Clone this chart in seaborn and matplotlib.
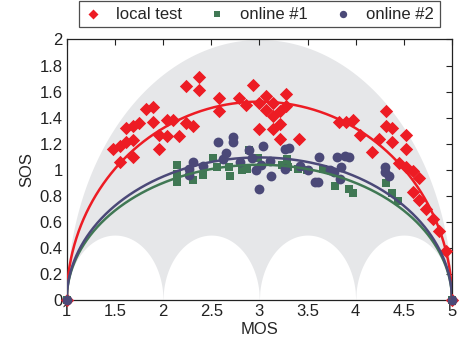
import numpy as np
import pandas as pd
import matplotlib
matplotlib.use("Agg")
import matplotlib.pyplot as plt
import seaborn as sns

# ---------------------------------------------------------------
# data (MOS, SOS per test condition)
# ---------------------------------------------------------------
local_mos = [1.00, 1.48, 1.55, 1.62, 1.69, 1.55, 1.69, 1.62, 1.69, 1.75, 1.82,
             1.90, 1.90, 1.96, 1.96, 2.04, 2.04, 2.10, 2.17, 2.24, 2.31, 2.24,
             2.37, 2.37, 2.58, 2.58, 2.79, 2.86, 2.93, 3.00, 3.00, 3.07, 3.07,
             3.14, 3.14, 3.21, 3.21, 3.28, 3.28, 3.14, 3.21, 3.41, 3.83, 3.90,
             3.97, 4.04, 4.31, 4.31, 4.38, 4.52, 4.24, 4.38, 4.52, 4.17, 4.45,
             4.52, 4.59, 4.66, 4.59, 4.66, 4.73, 4.80, 4.87, 4.94, 5.00]
local_sos = [0.00, 1.16, 1.18, 1.21, 1.23, 1.06, 1.10, 1.32, 1.34, 1.36, 1.47,
             1.48, 1.37, 1.27, 1.16, 1.26, 1.38, 1.38, 1.26, 1.36, 1.34, 1.64,
             1.71, 1.61, 1.55, 1.45, 1.55, 1.50, 1.65, 1.51, 1.31, 1.57, 1.46,
             1.51, 1.41, 1.45, 1.35, 1.58, 1.49, 1.31, 1.24, 1.24, 1.37, 1.37,
             1.38, 1.27, 1.45, 1.34, 1.32, 1.27, 1.24, 1.21, 1.16, 1.14, 1.05,
             1.02, 0.99, 0.94, 0.83, 0.77, 0.70, 0.62, 0.53, 0.38, 0.00]

online1_mos = [1.00, 2.14, 2.14, 2.14, 2.31, 2.41, 2.52, 2.56, 2.69, 2.70, 2.82,
               2.89, 2.99, 2.87, 3.23, 3.29, 3.30, 3.40, 3.49, 3.66, 3.79, 3.93,
               3.97, 4.31, 4.38, 4.44, 5.00]
online1_sos = [0.00, 1.04, 0.97, 0.91, 0.92, 0.96, 1.09, 1.02, 1.02, 0.95, 1.00,
               1.15, 1.09, 1.01, 1.04, 1.08, 1.02, 1.01, 1.00, 1.01, 0.88, 0.85,
               0.82, 0.90, 0.82, 0.76, 0.00]

online2_mos = [1.00, 2.31, 2.27, 2.27, 2.42, 2.57, 2.73, 2.73, 2.65, 2.62, 2.80,
               2.89, 2.92, 3.04, 3.02, 2.96, 3.11, 3.12, 3.00, 3.27, 3.31, 3.27,
               3.42, 3.50, 3.62, 3.58, 3.61, 3.81, 3.89, 3.93, 3.73, 3.85, 3.78,
               3.84, 4.30, 4.30, 4.35, 5.00]
online2_sos = [0.00, 1.06, 1.01, 0.96, 1.03, 1.21, 1.25, 1.21, 1.13, 1.08, 1.06,
               1.15, 1.09, 1.18, 1.04, 1.00, 1.07, 0.95, 0.85, 1.16, 1.17, 1.01,
               1.03, 1.00, 1.10, 0.91, 0.91, 1.10, 1.11, 1.10, 1.00, 1.02, 0.98,
               0.93, 1.02, 0.98, 0.95, 0.00]

# SOS hypothesis parameter a (SOS^2 = a * (-MOS^2 + 6 MOS - 5))
a_local = 0.58
a_online1 = 0.27
a_online2 = 0.30

RED = "#ED1C24"
GREEN = "#407854"
BLUE = "#4B4978"
GREY = "#E6E7E9"

sns.set_style("white")
plt.rcParams["font.family"] = ["Liberation Sans", "DejaVu Sans"]
plt.rcParams["font.size"] = 12

fig = plt.figure(figsize=(4.59, 3.45), dpi=100)
ax = fig.add_axes([0.1453, 0.1296, 0.8395, 0.756])

# feasible region: below the max-SOS arc, above the small arcs between integers
grid = np.linspace(1, 5, 801)
upper = np.sqrt(np.clip(-(grid - 1) * (grid - 5), 0, None))
frac = grid - np.floor(grid)
frac[-1] = 1.0
lower = np.sqrt(np.clip(frac * (1 - frac), 0, None))
ax.fill_between(grid, lower, upper, color=GREY, lw=0, zorder=0)

series = [
    ("local test", local_mos, local_sos, RED, "D", 46),
    ("online #1", online1_mos, online1_sos, GREEN, "s", 38),
    ("online #2", online2_mos, online2_sos, BLUE, "o", 50),
]
for name, mos, sos, col, mk, sz in series:
    df = pd.DataFrame({"MOS": mos, "SOS": sos})
    sns.scatterplot(data=df, x="MOS", y="SOS", color=col, marker=mk, s=sz,
                    linewidth=0, label=name, ax=ax, zorder=3, clip_on=False)

for a, col in [(a_local, RED), (a_online1, GREEN), (a_online2, BLUE)]:
    fit = pd.DataFrame({"MOS": grid,
                        "SOS": np.sqrt(np.clip(a * -(grid - 1) * (grid - 5), 0, None))})
    sns.lineplot(data=fit, x="MOS", y="SOS", color=col, lw=1.8, ax=ax,
                 legend=False, estimator=None, sort=False, zorder=4)

ax.set_xlim(1, 5)
ax.set_ylim(0, 2)
ax.set_xticks(np.arange(1, 5.01, 0.5))
ax.set_xticklabels(["1", "1.5", "2", "2.5", "3", "3.5", "4", "4.5", "5"])
ax.set_yticks(np.arange(0, 2.01, 0.2))
ax.set_yticklabels(["0", "0.2", "0.4", "0.6", "0.8", "1", "1.2", "1.4", "1.6", "1.8", "2"])
ax.tick_params(direction="in", length=4, width=0.8, top=True, right=True,
               labelsize=12, pad=3, colors="#222222")
for sp in ax.spines.values():
    sp.set_color("#222222")
    sp.set_linewidth(0.9)
ax.set_xlabel("MOS", fontsize=12, labelpad=2)
ax.set_ylabel("SOS", fontsize=12, labelpad=4)

leg = ax.legend(loc="upper center", bbox_to_anchor=(0.565, 0.998),
                bbox_transform=fig.transFigure, ncol=3,
                frameon=True, fancybox=False, edgecolor="#222222", fontsize=12,
                handlelength=1.0, handletextpad=0.9, columnspacing=1.6,
                borderpad=0.35, borderaxespad=0, markerscale=0.75)
leg.get_frame().set_linewidth(0.9)

fig.savefig("out.png", dpi=100)
